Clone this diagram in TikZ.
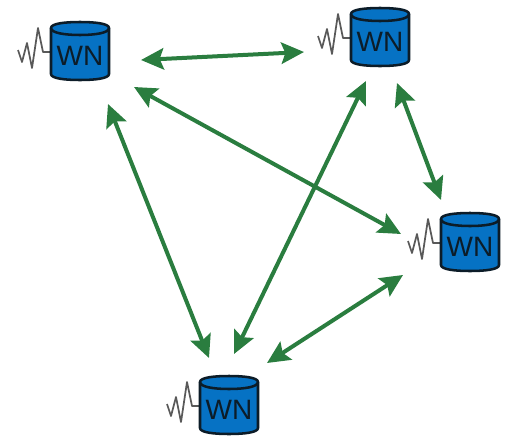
\documentclass[tikz,border=0pt]{standalone}
\usepackage{fontspec}
\setmainfont{Liberation Sans}
\usetikzlibrary{arrows.meta}
\definecolor{wnblue}{HTML}{0672C4}
\definecolor{wngreen}{HTML}{2A7D3F}
\definecolor{wnink}{HTML}{0C1C28}
\tikzset{
  link/.style={draw=wngreen,line width=3pt,{Stealth[length=17pt,width=16pt,inset=3pt]}-{Stealth[length=17pt,width=16pt,inset=3pt]}},
  wave/.style={draw=black!65,line width=1.3pt,line join=round},
  can/.style={draw=wnink,line width=1.9pt,fill=wnblue,line join=round},
  wnlabel/.style={text=wnink,font=\fontsize{21}{21}\selectfont,inner sep=0pt},
  pics/wn/.style={code={
    \draw[wave] (-1,30) -- (-8,30) -- (-13,6) -- (-19,46) -- (-24,21) -- (-29,40) -- (-33,28);
    \draw[can] (0,6) .. controls (0,1.5) and (14,0) .. (29,0) .. controls (44,0) and (58,1.5) .. (58,6)
      -- (58,52) .. controls (58,56.5) and (44,58) .. (29,58) .. controls (14,58) and (0,56.5) .. (0,52) -- cycle;
    \draw[draw=wnink,line width=1.9pt] (0,6) .. controls (0,11) and (14,13) .. (29,13) .. controls (44,13) and (58,11) .. (58,6);
  }}
}
\begin{document}
\begin{tikzpicture}[x=0.75pt,y=-0.75pt]
\useasboundingbox (0,0) rectangle (507,436);
\pic at (51,22) {wn};
\pic at (351,8) {wn};
\pic at (441,213) {wn};
\pic at (200,376) {wn};
\node[wnlabel] (wnA) at (80,56) {WN};
\node[wnlabel] (wnB) at (380,42) {WN};
\node[wnlabel] (wnC) at (470,247) {WN};
\node[wnlabel] (wnD) at (229,410) {WN};
\coordinate (a1) at (141,60);
\coordinate (a2) at (134,87);
\coordinate (a3) at (108,104);
\coordinate (b1) at (304,52);
\coordinate (b2) at (366,81);
\coordinate (b3) at (397,83);
\coordinate (c1) at (441,200);
\coordinate (c2) at (401,234);
\coordinate (c3) at (403,275);
\coordinate (d1) at (209,358);
\coordinate (d2) at (234,354);
\coordinate (d3) at (267,363);
\draw[link] (a1) -- (b1);
\draw[link] (a2) -- (c2);
\draw[link] (a3) -- (d1);
\draw[link] (b2) -- (d2);
\draw[link] (b3) -- (c1);
\draw[link] (c3) -- (d3);
\end{tikzpicture}
\end{document}
